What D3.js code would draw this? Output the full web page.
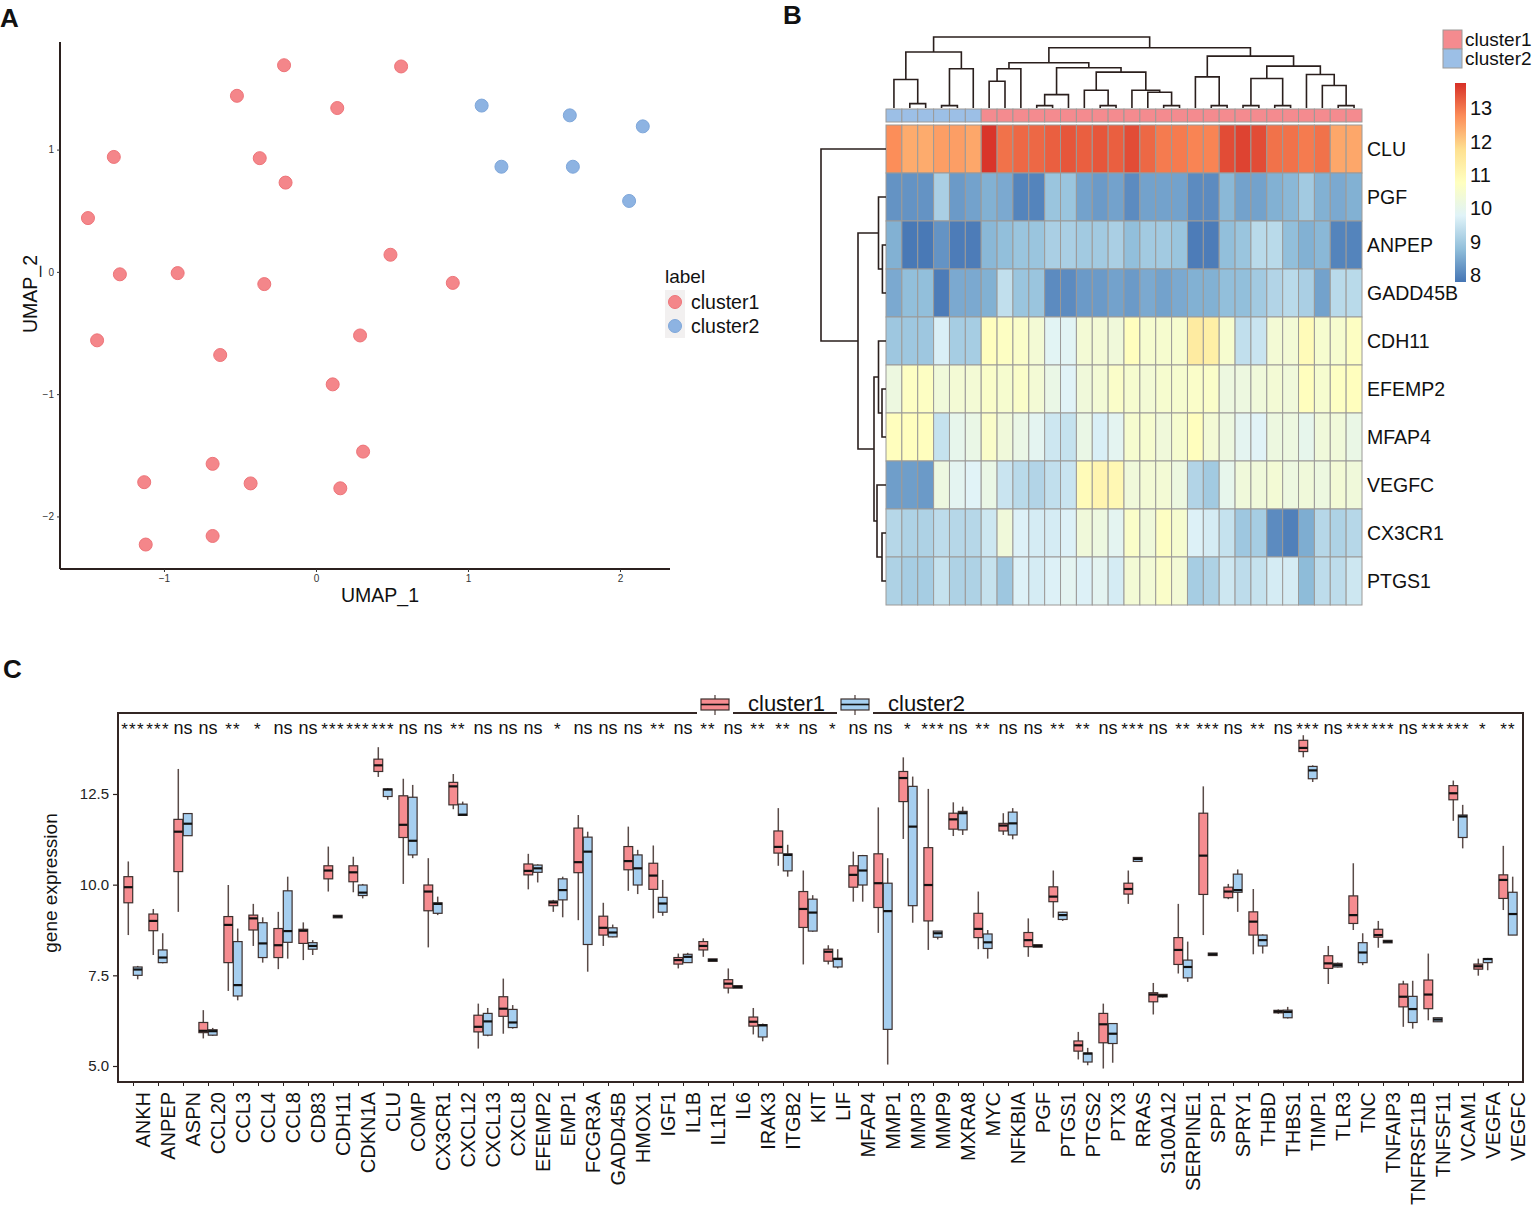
<!DOCTYPE html>
<html>
<head>
<meta charset="utf-8">
<script src="https://cdn.jsdelivr.net/npm/d3@7"></script>
<style>
  html, body { margin: 0; padding: 0; background: #fff; }
  svg { display: block; font-family: "Liberation Sans", Arial, Helvetica, sans-serif; }
</style>
</head>
<body>
<svg id="fig" width="1533" height="1207"></svg>
<script>
// ---------------- Panel A data (UMAP) ----------------
const umap1_c1 = [-0.21, 0.56, -0.52, 0.14, -1.33, -0.37, -0.20, -1.50, -1.29, -0.91, -0.34, 0.49, 0.90, -1.44, -0.63, 0.29, 0.11, -0.68, 0.31, -1.13, -0.43, 0.16, -1.12, -0.68];
const umap2_c1 = [1.69, 1.68, 1.44, 1.34, 0.94, 0.93, 0.73, 0.44, -0.02, -0.01, -0.10, 0.14, -0.09, -0.56, -0.68, -0.52, -0.92, -1.57, -1.47, -1.72, -1.73, -1.77, -2.23, -2.16];
const umap1_c2 = [1.09, 1.67, 2.15, 1.22, 1.69, 2.06];
const umap2_c2 = [1.36, 1.28, 1.19, 0.86, 0.86, 0.58];
const umapTicksX = [-1, 0, 1, 2];
const umapTicksY = [-2, -1, 0, 1];
const clusterNames = ["cluster1", "cluster2"];

// ---------------- Panel B data (heatmap) ----------------
const heatGenes = ["CLU", "PGF", "ANPEP", "GADD45B", "CDH11", "EFEMP2", "MFAP4", "VEGFC", "CX3CR1", "PTGS1"];
const sampleCluster = [2,2,2,2,2,2, 1,1,1,1,1,1,1,1,1,1,1,1,1,1,1,1,1,1,1,1,1,1,1,1];
const heatCLU     = [12.75,12.4,12.4,12.55,12.55,12.45,13.7,13.05,13.15,13.15,13.25,13.35,13.25,13.35,13.25,13.45,13.15,12.95,12.95,12.85,12.85,13.45,13.55,13.45,13.05,13.05,12.95,13.05,12.45,12.45];
const heatPGF     = [8.2,8.2,8.2,9.1,8.3,8.4,8.6,8.5,8.0,8.0,8.9,8.9,8.4,8.3,8.4,8.1,8.4,8.4,8.4,8.1,8.1,8.7,8.4,8.4,8.6,8.7,9.0,8.6,8.5,8.6];
const heatANPEP   = [8.6,7.85,7.85,8.2,7.9,7.9,8.7,8.8,8.9,8.9,9.1,9.1,9.0,9.0,9.1,8.8,9.0,9.0,8.9,7.9,7.9,8.8,8.9,9.3,9.3,8.8,8.6,8.7,8.0,8.0];
const heatGADD45B = [8.5,8.8,8.8,7.9,8.5,8.5,8.6,9.4,8.9,8.9,8.1,8.1,8.3,8.3,8.4,8.3,8.5,8.4,8.5,8.6,8.6,8.8,8.8,9.0,9.2,9.3,9.1,8.4,9.3,9.3];
const heatCDH11   = [8.95,8.95,8.95,9.7,9.05,9.05,10.8,10.7,10.6,10.4,9.85,9.85,10.4,10.4,10.3,10.8,10.5,10.5,10.5,11.4,11.3,10.5,9.4,9.5,10.4,10.4,10.9,10.5,10.5,10.7];
const heatEFEMP2  = [10.2,10.7,10.7,10.3,10.4,10.4,10.6,10.5,10.6,10.4,10.1,9.8,10.3,10.4,10.6,10.5,10.4,10.5,10.5,10.6,10.6,10.2,10.2,10.3,10.4,10.3,10.8,10.5,10.7,10.8];
const heatMFAP4   = [10.8,10.8,10.8,9.45,10.0,10.1,10.6,10.3,10.1,9.9,9.55,9.45,10.1,9.7,9.9,10.5,10.5,10.3,10.5,10.8,10.4,10.2,9.9,9.8,10.2,10.2,10.0,10.3,10.3,10.1];
const heatVEGFC   = [8.35,8.35,8.3,10.2,9.9,9.8,10.1,9.5,9.3,9.2,9.4,9.5,10.9,11.1,11.0,10.3,10.4,10.4,10.2,9.2,9.0,10.0,10.3,10.3,10.4,10.2,10.3,10.2,10.4,10.3];
const heatCX3CR1  = [9.25,9.15,9.15,9.35,9.25,9.25,9.55,10.3,9.75,9.65,9.65,9.75,10.3,10.2,9.9,10.6,10.3,10.7,10.5,9.75,9.65,9.45,8.95,9.05,8.1,7.95,8.55,9.25,9.15,9.25];
const heatPTGS1   = [9.15,9.05,9.05,9.45,9.15,9.15,9.45,8.95,9.75,9.65,9.75,9.9,9.75,9.9,9.65,10.4,10.4,10.6,10.4,9.05,9.15,9.55,9.35,9.45,9.65,9.65,8.75,9.35,9.35,9.55];
const heatValues = [heatCLU, heatPGF, heatANPEP, heatGADD45B, heatCDH11, heatEFEMP2, heatMFAP4, heatVEGFC, heatCX3CR1, heatPTGS1];
const heatColorStops = ["#4575B4", "#91BFDB", "#E0F3F8", "#FFFFBF", "#FEE090", "#FC8D59", "#D73027"];
const heatRange = [7.8, 13.75];
const heatLegendTicks = [8, 9, 10, 11, 12, 13];
// dendrograms: [height, left, right]; a number is a leaf index
const colDendro = [212,
  [167, [85, 0, [13, 1, 2]], [117, [7, 3, 4], 5]],
  [180,
    [135, [117, [80, 6, 7], 8], [120, [40, [7, 9, 10], 11], [107, [53, 12, [7, 13, 14]], [53, 15, [47, 16, [7, 17, 18]]]]]],
    [155, [93, 19, [7, 20, 21]], [125, [88, [7, 22, 23], [7, 24, 25]], [100, 26, [67, 27, [7, 28, 29]]]]]
  ]
];
const rowDendro = [65, 0, [28, [7.5, 1, [3.6, 2, 3]], [12, [7.5, 4, [4, 5, 6]], [9, 7, [4, 8, 9]]]]];

// ---------------- Panel C data (boxplots) ----------------
const boxGenes = ["ANKH","ANPEP","ASPN","CCL20","CCL3","CCL4","CCL8","CD83","CDH11","CDKN1A","CLU","COMP","CX3CR1","CXCL12","CXCL13","CXCL8","EFEMP2","EMP1","FCGR3A","GADD45B","HMOX1","IGF1","IL1B","IL1R1","IL6","IRAK3","ITGB2","KIT","LIF","MFAP4","MMP1","MMP3","MMP9","MXRA8","MYC","NFKBIA","PGF","PTGS1","PTGS2","PTX3","RRAS","S100A12","SERPINE1","SPP1","SPRY1","THBD","THBS1","TIMP1","TLR3","TNC","TNFAIP3","TNFRSF11B","TNFSF11","VCAM1","VEGFA","VEGFC"];
const sigLabels = ["***","***","ns","ns","**","*","ns","ns","***","***","***","ns","ns","**","ns","ns","ns","*","ns","ns","ns","**","ns","**","ns","**","**","ns","*","ns","ns","*","***","ns","**","ns","ns","**","**","ns","***","ns","**","***","ns","**","ns","***","ns","***","***","ns","***","***","*","**"];
// [lower whisker, Q1, median, Q3, upper whisker]
const statsCluster1 = [
 [8.61,9.50,9.93,10.22,10.64],[8.06,8.73,9.00,9.19,9.33],[9.25,10.36,11.46,11.80,13.19],[5.76,5.92,5.97,6.20,6.54],
 [7.07,7.85,8.89,9.12,9.99],[8.31,8.75,9.07,9.16,9.47],[7.67,7.99,8.33,8.79,9.25],[7.92,8.38,8.73,8.77,8.96],
 [9.81,10.16,10.39,10.52,11.05],[9.79,10.08,10.34,10.52,10.77],[12.97,13.12,13.29,13.46,13.79],[10.02,11.30,11.65,12.45,12.92],
 [8.27,9.28,9.81,9.99,10.73],[12.08,12.20,12.71,12.82,13.05],[5.48,5.94,6.08,6.40,6.72],[5.89,6.37,6.58,6.91,7.41],
 [9.87,10.27,10.38,10.57,10.85],[9.25,9.42,9.51,9.55,9.58],[9.02,10.33,10.62,11.56,11.92],[8.31,8.61,8.81,9.13,9.50],
 [9.83,10.41,10.65,11.05,11.60],[9.07,9.87,10.25,10.59,11.08],[7.69,7.81,7.92,7.99,8.10],[8.01,8.20,8.31,8.43,8.52],
 [7.00,7.15,7.27,7.38,7.69],[5.87,6.10,6.22,6.35,6.60],[10.52,10.87,11.04,11.48,12.11],[7.80,8.82,9.33,9.81,10.39],
 [7.80,7.89,8.15,8.22,8.33],[9.53,9.93,10.27,10.52,10.91],[8.67,9.37,10.04,10.85,12.13],[11.26,12.29,12.94,13.12,13.51],
 [8.20,9.00,9.99,11.02,12.64],[11.34,11.53,11.80,11.97,12.27],[8.22,8.54,8.78,9.21,9.81],[11.37,11.48,11.63,11.69,11.97],
 [8.01,8.29,8.47,8.68,9.07],[9.09,9.53,9.67,9.94,10.39],[5.18,5.41,5.57,5.69,5.94],[4.93,5.64,6.15,6.45,6.72],
 [9.47,9.74,9.88,10.04,10.39],[6.42,6.77,6.97,7.02,7.29],[7.55,7.80,8.20,8.54,9.47],[8.61,9.73,10.80,11.97,12.71],
 [9.60,9.64,9.81,9.93,10.02],[8.08,8.61,8.98,9.25,9.88],[6.44,6.47,6.50,6.53,6.56],[13.51,13.67,13.77,13.98,14.12],
 [7.26,7.69,7.83,8.04,8.31],[8.75,8.93,9.16,9.69,10.59],[8.26,8.55,8.61,8.77,9.00],[6.08,6.63,6.91,7.26,7.35],
 [6.26,6.58,6.97,7.37,8.10],[11.76,12.34,12.52,12.73,12.87],[7.49,7.67,7.75,7.81,7.96],[9.30,9.62,10.13,10.27,11.07]
];
const statsCluster2 = [
 [7.39,7.50,7.66,7.73,7.76],[7.83,7.85,7.99,8.20,8.66],[11.35,11.35,11.68,11.96,11.97],[5.83,5.85,5.96,6.00,6.05],
 [6.81,6.93,7.23,8.43,8.79],[7.85,7.99,8.38,8.95,9.10],[7.96,8.41,8.72,9.83,10.22],[8.06,8.22,8.31,8.40,8.47],
 [9.10,9.10,9.12,9.14,9.14],[9.62,9.70,9.78,9.99,10.02],[12.34,12.43,12.62,12.64,12.66],[10.73,10.82,11.21,12.41,12.75],
 [9.16,9.21,9.47,9.50,9.67],[11.91,11.91,11.93,12.22,12.29],[5.82,5.85,6.23,6.45,6.60],[6.03,6.06,6.20,6.56,6.68],
 [10.06,10.34,10.45,10.54,10.56],[9.10,9.58,9.85,10.16,10.22],[7.60,8.35,10.91,11.31,11.46],[8.55,8.56,8.68,8.81,8.90],
 [9.74,9.99,10.45,10.82,10.96],[9.14,9.24,9.48,9.65,10.13],[7.85,7.85,8.01,8.08,8.12],[7.90,7.90,7.92,7.94,7.94],
 [7.16,7.16,7.18,7.20,7.20],[5.68,5.80,6.12,6.14,6.17],[10.22,10.38,10.82,10.85,11.10],[8.70,8.72,9.23,9.60,9.71],
 [7.69,7.73,7.95,7.97,8.22],[9.53,9.99,10.39,10.80,10.82],[5.04,6.01,9.27,10.04,10.73],[8.95,9.42,11.60,12.71,12.98],
 [8.49,8.55,8.66,8.72,8.72],[11.37,11.51,11.97,12.02,12.15],[7.96,8.24,8.41,8.64,8.75],[11.25,11.37,11.69,12.00,12.11],
 [8.29,8.29,8.31,8.33,8.33],[9.00,9.04,9.16,9.24,9.25],[5.02,5.11,5.34,5.36,5.50],[5.09,5.62,5.89,6.17,6.17],
 [10.63,10.64,10.71,10.75,10.76],[6.89,6.91,6.93,6.97,6.97],[7.32,7.43,7.73,7.92,8.43],[8.06,8.06,8.08,8.10,8.10],
 [9.25,9.79,9.85,10.29,10.42],[8.10,8.31,8.47,8.61,8.63],[6.31,6.33,6.49,6.54,6.63],[12.83,12.92,13.15,13.26,13.29],
 [7.72,7.73,7.78,7.83,7.85],[7.78,7.85,8.13,8.40,8.66],[8.41,8.41,8.43,8.45,8.45],[6.03,6.20,6.57,6.92,7.35],
 [6.22,6.22,6.28,6.33,6.33],[11.00,11.30,11.88,11.92,12.20],[7.64,7.85,7.95,7.96,7.98],[8.61,8.61,9.19,9.79,10.22]
];
const boxTicksY = [5.0, 7.5, 10.0, 12.5];

// ---------------- styles ----------------
const RED_PT = "#F4868A", BLUE_PT = "#8DB3E2";
const RED_BOX = "#F58C90", BLUE_BOX = "#A6CFF0";
const ANN_RED = "#F48B8F", ANN_BLUE = "#9CBFE6";
const DARK = "#2b201e";

const svg = d3.select("#fig");
svg.append("rect").attr("width", 1533).attr("height", 1207).attr("fill", "#fff");

// panel letters
[["A", 0, 27], ["B", 783, 24], ["C", 3, 678]].forEach(([t, x, y]) =>
  svg.append("text").attr("x", x).attr("y", y).attr("font-size", 26).attr("font-weight", "bold").attr("fill", "#111").text(t));

// ================= Panel A =================
(function () {
  const x = d3.scaleLinear().domain([-1.684, 2.329]).range([60, 670]);
  const y = d3.scaleLinear().domain([-2.43, 1.88]).range([569, 42]);
  const g = svg.append("g");
  const ax = g.append("g").attr("transform", "translate(0,569)")
    .call(d3.axisBottom(x).tickValues(umapTicksX).tickSize(3).tickSizeOuter(0).tickFormat(d3.format("d")));
  const ay = g.append("g").attr("transform", "translate(60,0)")
    .call(d3.axisLeft(y).tickValues(umapTicksY).tickSize(3).tickSizeOuter(0).tickFormat(d3.format("d")));
  [ax, ay].forEach(a => {
    a.select(".domain").attr("stroke", DARK).attr("stroke-width", 2);
    a.selectAll(".tick line").attr("stroke", "#333");
    a.selectAll(".tick text").attr("font-size", 10).attr("fill", "#333").attr("font-family", "Liberation Sans, Arial");
  });
  ax.select(".domain").attr("d", "M60,0H670");
  ay.select(".domain").attr("d", "M0,42V569");

  const pts1 = umap1_c1.map((v, i) => ({ x: v, y: umap2_c1[i] }));
  const pts2 = umap1_c2.map((v, i) => ({ x: v, y: umap2_c2[i] }));
  g.selectAll(".p1").data(pts1).join("circle").attr("cx", d => x(d.x)).attr("cy", d => y(d.y))
    .attr("r", 6.5).attr("fill", RED_PT).attr("stroke", "#EE7479").attr("stroke-width", 1);
  g.selectAll(".p2").data(pts2).join("circle").attr("cx", d => x(d.x)).attr("cy", d => y(d.y))
    .attr("r", 6.5).attr("fill", BLUE_PT).attr("stroke", "#7FA7DA").attr("stroke-width", 1);

  g.append("text").attr("x", 380).attr("y", 602).attr("text-anchor", "middle").attr("font-size", 19.5).attr("fill", "#111").text("UMAP_1");
  g.append("text").attr("transform", "translate(37,294) rotate(-90)").attr("text-anchor", "middle").attr("font-size", 19.5).attr("fill", "#111").text("UMAP_2");

  // legend
  g.append("text").attr("x", 665).attr("y", 283).attr("font-size", 19).attr("fill", "#111").text("label");
  g.append("rect").attr("x", 665).attr("y", 290).attr("width", 20).attr("height", 48).attr("fill", "#F2F0F0");
  clusterNames.forEach((c, i) => {
    g.append("circle").attr("cx", 675).attr("cy", 302 + i * 24).attr("r", 6.5)
      .attr("fill", i === 0 ? RED_PT : BLUE_PT).attr("stroke", i === 0 ? "#EE7479" : "#7FA7DA");
    g.append("text").attr("x", 691).attr("y", 309 + i * 24).attr("font-size", 19.5).attr("fill", "#111").text(c);
  });
})();

// ================= Panel B =================
(function () {
  const g = svg.append("g");
  const cols = d3.range(sampleCluster.length);
  const xb = d3.scaleBand().domain(cols).range([886, 1362]);
  const yb = d3.scaleBand().domain(heatGenes).range([125, 605]);
  const stops = heatColorStops.map((c, i) => heatRange[0] + i * (heatRange[1] - heatRange[0]) / (heatColorStops.length - 1));
  const color = d3.scaleLinear().domain(stops).range(heatColorStops).interpolate(d3.interpolateRgb).clamp(true);

  heatGenes.forEach((gene, r) => {
    g.selectAll(null).data(heatValues[r]).join("rect")
      .attr("x", (d, c) => xb(c)).attr("y", yb(gene))
      .attr("width", xb.bandwidth()).attr("height", yb.bandwidth())
      .attr("fill", d => color(d)).attr("stroke", "#9c9a98").attr("stroke-width", 1);
    g.append("text").attr("x", 1367).attr("y", yb(gene) + yb.bandwidth() / 2 + 7)
      .attr("font-size", 19.5).attr("fill", "#111").text(gene);
  });
  g.selectAll(null).data(sampleCluster).join("rect")
    .attr("x", (d, c) => xb(c)).attr("y", 109).attr("width", xb.bandwidth()).attr("height", 13)
    .attr("fill", d => d === 1 ? ANN_RED : ANN_BLUE).attr("stroke", "#9c9a98").attr("stroke-width", 1);

  const hCol = d3.scaleLinear().domain([0, 212]).range([108, 37]);
  const dend = g.append("g").attr("stroke", "#2a1f1d").attr("stroke-width", 1.6).attr("fill", "none");
  function drawCol(node) {
    if (typeof node === "number") return { p: xb(node) + xb.bandwidth() / 2, h: 0 };
    const [h, l, r] = node;
    const L = drawCol(l), R = drawCol(r);
    dend.append("path").attr("d", `M${L.p},${hCol(L.h)}V${hCol(h)}H${R.p}V${hCol(R.h)}`);
    return { p: (L.p + R.p) / 2, h };
  }
  drawCol(colDendro);
  const hRow = d3.scaleLinear().domain([0, 65]).range([886, 821]);
  function drawRow(node) {
    if (typeof node === "number") return { p: yb(heatGenes[node]) + yb.bandwidth() / 2, h: 0 };
    const [h, l, r] = node;
    const L = drawRow(l), R = drawRow(r);
    dend.append("path").attr("d", `M${hRow(L.h)},${L.p}H${hRow(h)}V${R.p}H${hRow(R.h)}`);
    return { p: (L.p + R.p) / 2, h };
  }
  drawRow(rowDendro);

  clusterNames.forEach((c, i) => {
    g.append("rect").attr("x", 1443).attr("y", 30 + i * 19).attr("width", 19).attr("height", 19)
      .attr("fill", i === 0 ? ANN_RED : ANN_BLUE).attr("stroke", "#9c9a98");
    g.append("text").attr("x", 1465).attr("y", 46 + i * 19).attr("font-size", 19).attr("fill", "#111").text(c);
  });
  const cb = d3.scaleLinear().domain(heatRange).range([282, 83]);
  const defs = svg.append("defs");
  const grad = defs.append("linearGradient").attr("id", "hg").attr("x1", 0).attr("y1", 1).attr("x2", 0).attr("y2", 0);
  heatColorStops.forEach((c, i) => grad.append("stop").attr("offset", i / (heatColorStops.length - 1)).attr("stop-color", c));
  g.append("rect").attr("x", 1455).attr("y", 83).attr("width", 11).attr("height", 199).attr("fill", "url(#hg)");
  heatLegendTicks.forEach(t => {
    g.append("text").attr("x", 1470).attr("y", cb(t) + 7).attr("font-size", 20).attr("fill", "#111").text(t);
  });
})();

// ================= Panel C =================
(function () {
  const g = svg.append("g");
  const L = 118, R = 1523, T = 713, B = 1082;
  const x = d3.scalePoint().domain(boxGenes).range([L, R]).padding(0.6);
  const y = d3.scaleLinear().domain([5 - 16 / 36.27, 5 + 353 / 36.27]).range([B, T]);
  const off = 4.7, bw = 8.8;

  const ay = g.append("g").attr("transform", `translate(${L},0)`)
    .call(d3.axisLeft(y).tickValues(boxTicksY).tickSize(5).tickFormat(d3.format(".1f")));
  ay.select(".domain").remove();
  ay.selectAll(".tick line").attr("stroke", DARK).attr("stroke-width", 1.2);
  ay.selectAll(".tick text").attr("font-size", 15).attr("fill", "#222").attr("x", -9).attr("font-family", "Liberation Sans, Arial");
  const ax = g.append("g").attr("transform", `translate(0,${B})`)
    .call(d3.axisBottom(x).tickSize(4));
  ax.select(".domain").remove();
  ax.selectAll(".tick line").attr("stroke", DARK);
  ax.selectAll(".tick text").attr("font-size", 20).attr("fill", "#111").attr("font-family", "Liberation Sans, Arial")
    .attr("text-anchor", "end").attr("x", -10).attr("y", 0).attr("dy", "0").attr("dx", 0)
    .attr("transform", "translate(16.5,0) rotate(-90)");

  g.append("text").attr("transform", `translate(57,883) rotate(-90)`).attr("text-anchor", "middle")
    .attr("font-size", 19).attr("fill", "#111").text("gene expression");

  function drawBox(s, cx, fill) {
    const [wb, q1, md, q3, wt] = s;
    g.append("line").attr("x1", cx).attr("x2", cx).attr("y1", y(wt)).attr("y2", y(wb))
      .attr("stroke", "#5a4b48").attr("stroke-width", 1.5);
    let yt = y(q3), yb2 = y(q1);
    if (yb2 - yt < 2.5) { const m = (yt + yb2) / 2; yt = m - 1.25; yb2 = m + 1.25; }
    g.append("rect").attr("x", cx - bw / 2).attr("y", yt).attr("width", bw).attr("height", yb2 - yt)
      .attr("fill", fill).attr("stroke", "#3d302e").attr("stroke-width", 1.2);
    g.append("line").attr("x1", cx - bw / 2).attr("x2", cx + bw / 2).attr("y1", y(md)).attr("y2", y(md))
      .attr("stroke", "#111").attr("stroke-width", 2.2);
  }
  boxGenes.forEach((gene, i) => {
    drawBox(statsCluster1[i], x(gene) - off, RED_BOX);
    drawBox(statsCluster2[i], x(gene) + off, BLUE_BOX);
    const isNs = sigLabels[i] === "ns";
    g.append("text").attr("x", x(gene)).attr("y", isNs ? 734 : 735).attr("text-anchor", "middle")
      .attr("font-size", isNs ? 18 : 17).attr("letter-spacing", isNs ? 0 : 1.2).attr("fill", "#111").text(sigLabels[i]);
  });

  g.append("rect").attr("x", L).attr("y", T).attr("width", R - L).attr("height", B - T)
    .attr("fill", "none").attr("stroke", "#332624").attr("stroke-width", 2);

  const leg = [{ n: clusterNames[0], f: RED_BOX, ix: 700, tx: 748 }, { n: clusterNames[1], f: BLUE_BOX, ix: 840, tx: 888 }];
  leg.forEach(d => {
    g.append("rect").attr("x", d.ix - 3).attr("y", 694).attr("width", 36).attr("height", 22).attr("fill", "#fff");
    g.append("line").attr("x1", d.ix + 15).attr("x2", d.ix + 15).attr("y1", 695).attr("y2", 715).attr("stroke", "#5a4b48").attr("stroke-width", 1.3);
    g.append("rect").attr("x", d.ix + 1).attr("y", 699).attr("width", 28).attr("height", 11).attr("fill", d.f).attr("stroke", "#3d302e").attr("stroke-width", 1.2);
    g.append("line").attr("x1", d.ix + 1).attr("x2", d.ix + 29).attr("y1", 704.5).attr("y2", 704.5).attr("stroke", "#111").attr("stroke-width", 1.6);
    g.append("text").attr("x", d.tx).attr("y", 711).attr("font-size", 22).attr("fill", "#111").text(d.n);
  });
})();
</script>
</body>
</html>
